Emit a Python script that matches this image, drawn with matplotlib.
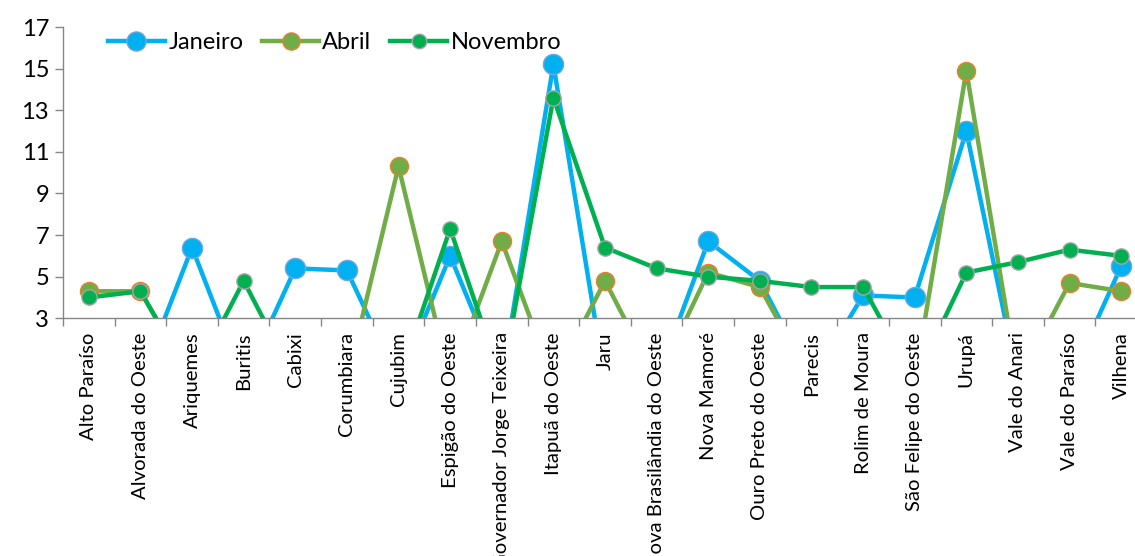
import numpy as np
import matplotlib
matplotlib.use("Agg")
import matplotlib.pyplot as plt
from matplotlib.ticker import FixedLocator

# municipalities (x categories)
municipios = [
    "Alto Paraíso", "Alvorada do Oeste", "Ariquemes", "Buritis", "Cabixi",
    "Corumbiara", "Cujubim", "Espigão do Oeste", "Governador Jorge Teixeira",
    "Itapuã do Oeste", "Jaru", "Nova Brasilândia do Oeste", "Nova Mamoré",
    "Ouro Preto do Oeste", "Parecis", "Rolim de Moura", "São Felipe do Oeste",
    "Urupá", "Vale do Anari", "Vale do Paraíso", "Vilhena",
]

# values (0 = below the axis floor)
janeiro = [0, 0, 6.4, 0, 5.4, 5.3, 0, 6.0, 0, 15.2, 0, 0, 6.7, 4.8, 0,
           4.1, 4.0, 12.0, 0, 0, 5.5]
abril = [4.3, 4.3, 0, 0, 0, 0, 10.3, 0, 6.7, 0, 4.8, 0, 5.2, 4.5, 0,
         0, 0, 14.9, 0, 4.7, 4.3]
novembro = [4.0, 4.3, 0, 4.8, 0, 0, 0, 7.3, 0, 13.6, 6.4, 5.4, 5.0, 4.8, 4.5,
            4.5, 0, 5.2, 5.7, 6.3, 6.0]

AXIS_GREY = "#868686"

plt.rcParams.update({
    "font.family": ["Lato", "DejaVu Sans"],
    "font.size": 15,
})

fig = plt.figure(figsize=(11.35, 5.56), dpi=100)
ax = fig.add_axes([63 / 1135, 1 - 318.3 / 556, (1147 - 63) / 1135, (318.3 - 27) / 556])

x = np.arange(len(municipios))
ax.plot(x, janeiro, color="#00B0F0", lw=3.2, marker="o", ms=14.5,
        mfc="#00B0F0", mec="#6FA8DC", mew=1, label="Janeiro", zorder=3)
ax.plot(x, abril, color="#70AD47", lw=3.2, marker="o", ms=13,
        mfc="#70AD47", mec="#ED7D31", mew=1, label="Abril", zorder=4)
ax.plot(x, novembro, color="#00B050", lw=3.2, marker="o", ms=11,
        mfc="#00B050", mec="#A5A5A5", mew=1, label="Novembro", zorder=5)

ax.set_xlim(-0.5, len(municipios) - 0.5)
ax.set_ylim(3, 17)
ax.set_yticks(np.arange(3, 18, 2))

ax.set_xticks(x)
ax.set_xticklabels(municipios, rotation=90, fontsize=14.6)
ax.tick_params(axis="x", which="major", length=0, pad=10)
ax.xaxis.set_minor_locator(FixedLocator(np.arange(-0.5, len(municipios), 1)))
ax.tick_params(axis="x", which="minor", length=6, color=AXIS_GREY, width=1)
ax.tick_params(axis="y", length=6, color=AXIS_GREY, width=1, labelsize=17, pad=4)

for side in ["top", "right"]:
    ax.spines[side].set_visible(False)
for side in ["left", "bottom"]:
    ax.spines[side].set_color(AXIS_GREY)
    ax.spines[side].set_linewidth(1)

leg = ax.legend(loc="upper left", bbox_to_anchor=(0.022, 1.055), ncol=3,
                frameon=False, fontsize=17, handlelength=2.4,
                handletextpad=0.15, columnspacing=0.8, markerscale=0.95)

fig.savefig("out.png", dpi=100)
